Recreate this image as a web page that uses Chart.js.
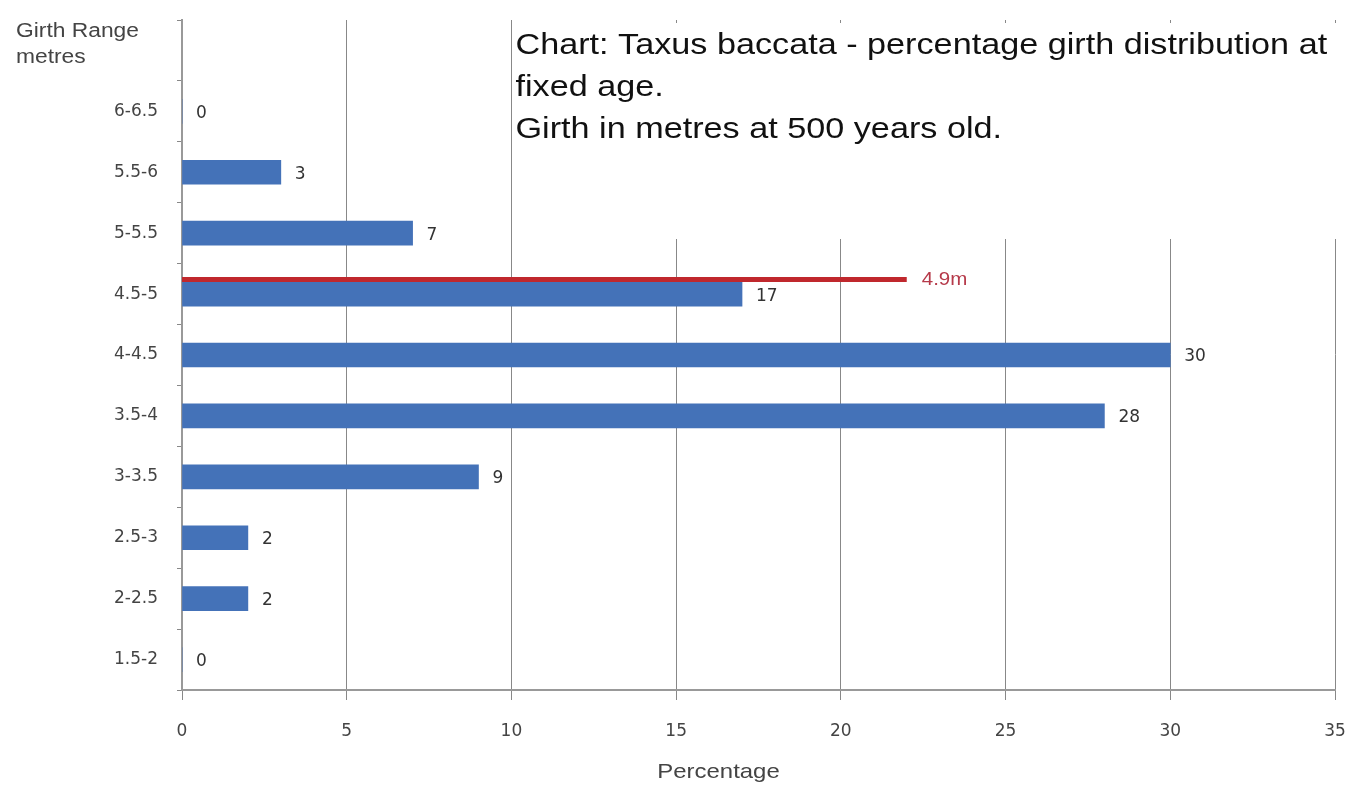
<!DOCTYPE html>
<html>
<head>
<meta charset="utf-8">
<script src="https://cdn.jsdelivr.net/npm/chart.js@4.4.1/dist/chart.umd.min.js"></script>
<style>
  html, body { margin: 0; padding: 0; background: #fff; }
  #wrap { width: 1350px; height: 785px; position: relative; }
</style>
</head>
<body>
<div id="wrap"><canvas id="girthChart" width="1350" height="785"></canvas></div>
<script>
// ===== DATA =====
// top slot is left blank in the original (holds the axis caption)
const girthRanges = ['', '6-6.5', '5.5-6', '5-5.5', '4.5-5', '4-4.5', '3.5-4', '3-3.5', '2.5-3', '2-2.5', '1.5-2'];
const percentages = [null, 0, 3, 7, 17, 30, 28, 9, 2, 2, 0];
const percentTicks = [0, 5, 10, 15, 20, 25, 30, 35];

// red marker line for the 4.9m girth
const markerLabel = '4.9m';
const markerGirth = [4.87, 4.87];   // position on the girth scale (metres)
const markerPercent = [0, 22];      // extent on the percentage scale

const titleLines = [
  'Chart: Taxus baccata - percentage girth distribution at',
  'fixed age.',
  'Girth in metres at 500 years old.'
];
const yCaption = ['Girth Range', 'metres'];
const xCaption = 'Percentage';

// the source picture is a bit wide-stretched, so text is too
const STRETCH = 1.14;
const ARIAL = '"Liberation Sans", Arial, sans-serif';
const TICK_FONT = '"DejaVu Sans", Verdana, sans-serif';

function wideText(ctx, text, x, y, align) {
  ctx.save();
  ctx.translate(x, y);
  ctx.scale(STRETCH, 1);
  ctx.textAlign = align || 'left';
  ctx.fillText(text, 0, 0);
  ctx.restore();
}

// keep tick labels from pushing the plot area in
function noEdgePadding(s) {
  s.paddingLeft = 0; s.paddingRight = 0;
  s.paddingTop = 0; s.paddingBottom = 0;
}

// ===== PLUGINS =====
const titleBox = {
  id: 'titleBox',
  beforeDatasetsDraw(chart) {
    const { ctx, scales } = chart;
    const x0 = scales.x.getPixelForValue(10) + 2;
    ctx.save();
    ctx.fillStyle = '#fff';
    ctx.fillRect(x0, 23, chart.width - x0, 216);
    ctx.restore();
  },
  afterDraw(chart) {
    const { ctx, scales } = chart;
    const x0 = scales.x.getPixelForValue(10) + 4;
    ctx.save();
    ctx.textBaseline = 'middle';
    ctx.fillStyle = '#111';
    ctx.font = '30px ' + ARIAL;
    titleLines.forEach((t, i) => wideText(ctx, t, x0, 46 + i * 42));
    ctx.fillStyle = '#444';
    ctx.font = '20px ' + ARIAL;
    yCaption.forEach((t, i) => wideText(ctx, t, 16, 31 + i * 26));
    ctx.font = '21px ' + ARIAL;
    wideText(ctx, xCaption, (scales.x.left + scales.x.right) / 2 - 40, 772, 'center');
    ctx.restore();
  }
};

const valueLabels = {
  id: 'valueLabels',
  afterDatasetsDraw(chart) {
    const { ctx } = chart;
    const meta = chart.getDatasetMeta(0);
    ctx.save();
    ctx.fillStyle = '#333';
    ctx.font = '17px ' + TICK_FONT;
    ctx.textBaseline = 'middle';
    meta.data.forEach((bar, i) => {
      if (percentages[i] === null) return;
      ctx.fillText(String(percentages[i]), bar.x + 14, bar.y + 2);
    });
    const line = chart.getDatasetMeta(1).data;
    const end = line[line.length - 1];
    ctx.fillStyle = '#B63A4A';
    ctx.font = '18px ' + ARIAL;
    wideText(ctx, markerLabel, end.x + 15, end.y + 1);
    ctx.restore();
  }
};

// ===== CHART =====
new Chart(document.getElementById('girthChart'), {
  data: {
    labels: girthRanges,
    datasets: [
      {
        type: 'bar',
        data: percentages,
        backgroundColor: '#4472B8',
        borderWidth: 0,
        barThickness: 24,
        grouped: false,
        yAxisID: 'y',
        xAxisID: 'x',
        order: 2
      },
      {
        type: 'line',
        data: markerPercent.map((p, i) => ({ x: p, y: markerGirth[i] })),
        borderColor: '#C0282D',
        borderWidth: 5,
        pointRadius: 0,
        yAxisID: 'yGirth',
        xAxisID: 'x',
        order: 1
      }
    ]
  },
  options: {
    indexAxis: 'y',
    responsive: false,
    animation: false,
    layout: { padding: { top: 20, right: 15, left: 0, bottom: 0 } },
    scales: {
      x: {
        type: 'linear',
        min: 0,
        max: 35,
        afterBuildTicks: s => { s.ticks = percentTicks.map(v => ({ value: v })); },
        afterFit: s => { s.height = 95; noEdgePadding(s); },
        grid: { color: '#888', lineWidth: 1, tickLength: 10, drawOnChartArea: true },
        border: { color: '#999', width: 2 },
        ticks: { color: '#444', padding: 21, font: { family: TICK_FONT, size: 17 } }
      },
      y: {
        type: 'category',
        afterFit: s => { s.width = 182; noEdgePadding(s); },
        grid: { offset: true, drawOnChartArea: false, tickLength: 5, color: '#888' },
        border: { color: '#999', width: 2 },
        ticks: { color: '#444', padding: 19, font: { family: TICK_FONT, size: 17 } }
      },
      yGirth: {
        type: 'linear',
        display: false,
        min: 1.5,
        max: 7
      }
    },
    plugins: {
      legend: { display: false },
      tooltip: { enabled: false }
    }
  },
  plugins: [titleBox, valueLabels]
});
</script>
</body>
</html>
